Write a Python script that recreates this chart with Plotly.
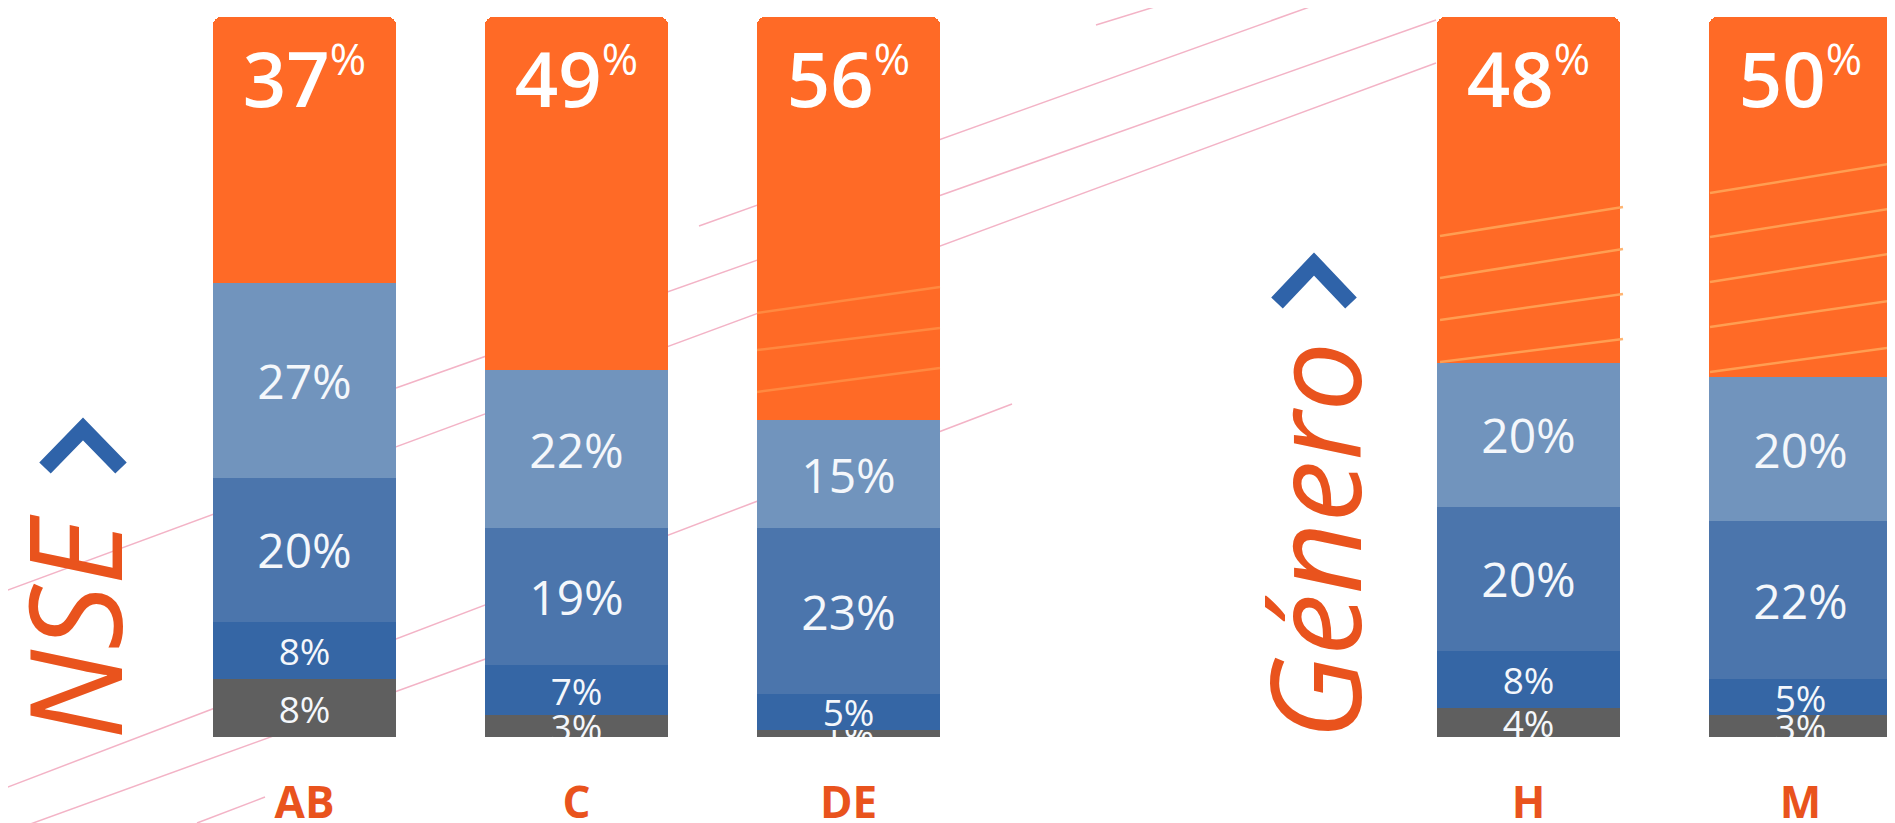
import plotly.graph_objects as go

# datos (% por grupo)
groups = ['AB', 'C', 'DE', 'H', 'M']
x_pos = [0, 1, 2, 4.5, 5.5]

seg_top = [37, 49, 56, 48, 50]      # naranja
seg_2 = [27, 22, 15, 20, 20]        # azul claro
seg_3 = [20, 19, 23, 20, 22]        # azul medio
seg_4 = [8, 7, 5, 8, 5]             # azul oscuro
seg_5 = [8, 3, 1, 4, 3]             # gris

ORANGE = '#FF6A26'
LIGHT = '#7194BD'
MID = '#4B75AC'
DARK = '#3566A5'
GREY = '#5F5F5F'
RED = '#E9531D'
BLUE = '#2F63A9'
PINK = '#F3B3C6'

W, H = 1895, 823
OFF = 8                 # margen del body en la pagina
TOP, BOT = 17, 737      # borde del area de grafico (pixeles de pagina)


def pp(x, y):
    # pixel de pagina -> paper
    return (x - OFF) / W, (BOT - y) / (BOT - TOP)


fig = go.Figure()

stack = [(seg_5, GREY), (seg_4, DARK), (seg_3, MID), (seg_2, LIGHT)]
for vals, col in stack:
    fig.add_trace(go.Bar(
        x=x_pos, y=vals, width=0.673,
        marker=dict(color=col, line=dict(width=0)),
        texttemplate='%{y}%', textposition='inside', insidetextanchor='middle',
        textangle=0, constraintext='none',
        textfont=dict(family='Open Sans', color='#F4F7FB',
                      size=[48 if v >= 15 else 37 for v in vals]),
        hoverinfo='skip', showlegend=False,
    ))

fig.add_trace(go.Bar(
    x=x_pos, y=seg_top, width=0.673,
    marker=dict(color=ORANGE, line=dict(width=0)),
    hoverinfo='skip', showlegend=False,
))

# etiqueta grande arriba
fig.add_trace(go.Scatter(
    x=x_pos, y=[90.1] * len(x_pos), mode='text',
    text=[f"{v}<sup><span style='font-size:44px;font-weight:400'>%</span></sup>" for v in seg_top],
    textposition='middle center',
    textfont=dict(family='Open Sans', size=76, color='white', weight=600),
    hoverinfo='skip', showlegend=False,
))

shapes = []

# lineas rosadas de fondo
pink_lines = [
    ((1096, 25), (1177, 0)),
    ((699, 226), (1329, 0)),
    ((396, 388), (1436, 20)),
    ((0, 593), (1436, 63)),
    ((0, 790), (1012, 404)),
    ((0, 835), (560, 632)),
    ((197, 823), (265, 797)),
]
for (x0, y0), (x1, y1) in pink_lines:
    a, b = pp(x0, y0)
    c, d = pp(x1, y1)
    shapes.append(dict(type='line', xref='paper', yref='paper', x0=a, y0=b, x1=c, y1=d,
                       line=dict(color=PINK, width=1.5), layer='below'))

# lineas claras dentro de las barras naranjas
light_lines = [
    ((757, 313), (940, 287)), ((757, 350), (940, 328)), ((757, 392), (940, 368)),
    ((1440, 236), (1623, 207)), ((1440, 278), (1623, 249)),
    ((1440, 320), (1623, 294)), ((1440, 362), (1623, 339)),
    ((1710, 193), (1895, 163)), ((1710, 237), (1895, 208)), ((1710, 282), (1895, 253)),
    ((1710, 327), (1895, 300)), ((1710, 372), (1895, 347)),
]
for i, ((x0, y0), (x1, y1)) in enumerate(light_lines):
    a, b = pp(x0, y0)
    c, d = pp(x1, y1)
    shapes.append(dict(type='line', xref='paper', yref='paper', x0=a, y0=b, x1=c, y1=d,
                       line=dict(color='#FFA85A', width=2.5),
                       opacity=0.5 if i < 3 else 0.85, layer='above'))

# chevrons
for pts in [[(45, 468), (83, 429), (121, 468)], [(1277, 303), (1314, 264), (1351, 303)]]:
    p = [pp(*q) for q in pts]
    path = f'M {p[0][0]},{p[0][1]} L {p[1][0]},{p[1][1]} L {p[2][0]},{p[2][1]}'
    shapes.append(dict(type='path', xref='paper', yref='paper', path=path,
                       line=dict(color=BLUE, width=16)))

annotations = []
for txt, cx, cy, sz in [('NSE', 72, 627, 128), ('Género', 1312, 541, 124)]:
    a, b = pp(cx, cy)
    annotations.append(dict(text=txt, xref='paper', yref='paper', x=a, y=b,
                            xanchor='center', yanchor='middle', textangle=-90,
                            showarrow=False,
                            font=dict(family='Open Sans', size=sz, color=RED,
                                      style='italic', weight=500)))

# rango x en pixeles de pagina: OFF .. OFF+W, centro de AB en 304.5, 272 px por unidad
x0_data = (OFF - 304.5) / 272
x1_data = (OFF + W - 304.5) / 272

fig.update_layout(
    template='none',
    width=W, height=H,
    margin=dict(l=0, r=0, t=TOP - OFF, b=H - (BOT - OFF), pad=0),
    barmode='stack', barcornerradius=8,
    paper_bgcolor='white', plot_bgcolor='white',
    shapes=shapes, annotations=annotations,
    xaxis=dict(range=[x0_data, x1_data], tickvals=x_pos, ticktext=groups,
               showgrid=False, zeroline=False, showline=False, ticks='',
               ticklabelstandoff=36, automargin=False,
               tickfont=dict(family='Open Sans', size=44, color=RED, weight='bold')),
    yaxis=dict(range=[0, 100], visible=False, automargin=False),
    showlegend=False,
)

fig.write_html('out.html')
